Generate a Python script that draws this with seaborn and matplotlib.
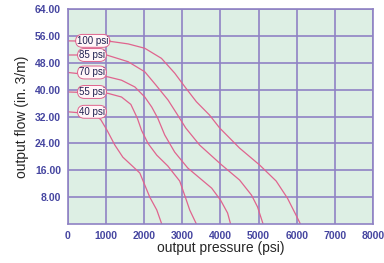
import pandas as pd
import matplotlib
matplotlib.use('Agg')
import matplotlib.pyplot as plt
import seaborn as sns

# curve data (pressure psi, flow in.3/m)
labels = ['100 psi', '85 psi', '70 psi', '55 psi', '40 psi']

p100 = [0, 1144, 1579, 2016, 2453, 2801, 3063, 3369, 3717, 3979, 4503, 5026, 5463, 5759, 5969, 6100]
f100 = [54.5, 54.3, 53.6, 52.3, 49.3, 44.9, 40.9, 36.4, 32.4, 28.6, 22.6, 17.6, 12.8, 7.7, 3.0, 0]

p85 = [0, 1013, 1579, 2016, 2304, 2626, 2880, 3089, 3455, 4031, 4503, 4817, 4974, 5120]
f85 = [50.3, 50.3, 48.3, 45.3, 41.4, 36.9, 32.4, 28.6, 23.5, 17.6, 13.1, 8.6, 5.1, 0]

p70 = [0, 1047, 1405, 1754, 2016, 2199, 2356, 2539, 2801, 3141, 3455, 3770, 4005, 4188, 4267]
f70 = [45.1, 43.8, 42.8, 40.8, 37.8, 34.8, 31.5, 26.5, 21.4, 16.7, 13.7, 10.7, 7.1, 3.3, 0]

p55 = [0, 1047, 1405, 1650, 1820, 1930, 2100, 2330, 2618, 2932, 3089, 3194, 3370]
f55 = [39.3, 38.9, 37.8, 35.6, 31.5, 27.9, 24.0, 20.5, 17.3, 12.8, 7.7, 4.2, 0]

p40 = [0, 707, 864, 1021, 1230, 1440, 1885, 2147, 2330, 2461]
f40 = [33.4, 32.7, 31.0, 28.0, 23.5, 19.9, 15.2, 8.0, 4.2, 0]

label_x = [650, 630, 630, 630, 630]
label_y = [54.5, 50.3, 45.1, 39.3, 33.4]

x_ticks = [0, 1000, 2000, 3000, 4000, 5000, 6000, 7000, 8000]
y_ticks = [8, 16, 24, 32, 40, 48, 56, 64]

rows = []
for lab, xs, ys in zip(labels, [p100, p85, p70, p55, p40], [f100, f85, f70, f55, f40]):
    for x, y in zip(xs, ys):
        rows.append({'curve': lab, 'pressure': x, 'flow': y})
df = pd.DataFrame(rows)

sns.set_style('white')
plt.rcParams['font.family'] = ['Liberation Sans', 'DejaVu Sans']

grid_col = '#8f82c4'
curve_col = '#e0648e'
tick_col = '#4545a0'

fig = plt.figure(figsize=(3.84, 2.63), dpi=100)
ax = fig.add_axes([0.177, 0.148, 0.794, 0.818])
ax.set_facecolor('#ddefe4')

sns.lineplot(data=df, x='pressure', y='flow', hue='curve', units='curve',
             estimator=None, sort=False, palette=[curve_col] * 5,
             linewidth=0.9, legend=False, ax=ax)

for lab, lx, ly in zip(labels, label_x, label_y):
    ax.text(lx, ly, lab, fontsize=7, color='#202050', ha='center', va='center',
            bbox=dict(boxstyle='round,pad=0.15,rounding_size=0.7',
                      fc='#fff6f8', ec=curve_col, lw=0.7))

ax.set_xlim(0, 8000)
ax.set_ylim(0, 64)
ax.set_xticks(x_ticks)
ax.set_yticks(y_ticks)
ax.set_xticklabels([str(v) for v in x_ticks])
ax.set_yticklabels([f'{v:.2f}' for v in y_ticks])
ax.tick_params(length=0, labelsize=7.5, labelcolor=tick_col, pad=5)
for t in ax.get_xticklabels() + ax.get_yticklabels():
    t.set_fontweight('bold')
ax.grid(True, color=grid_col, linewidth=1.2)
ax.set_axisbelow(True)
for s in ax.spines.values():
    s.set_color(grid_col)
    s.set_linewidth(1.2)

ax.set_xlabel('output pressure (psi)', fontsize=10, labelpad=0)
ax.set_ylabel('output flow (in. 3/m)', fontsize=10, labelpad=4)

fig.savefig('out.png', dpi=100)
